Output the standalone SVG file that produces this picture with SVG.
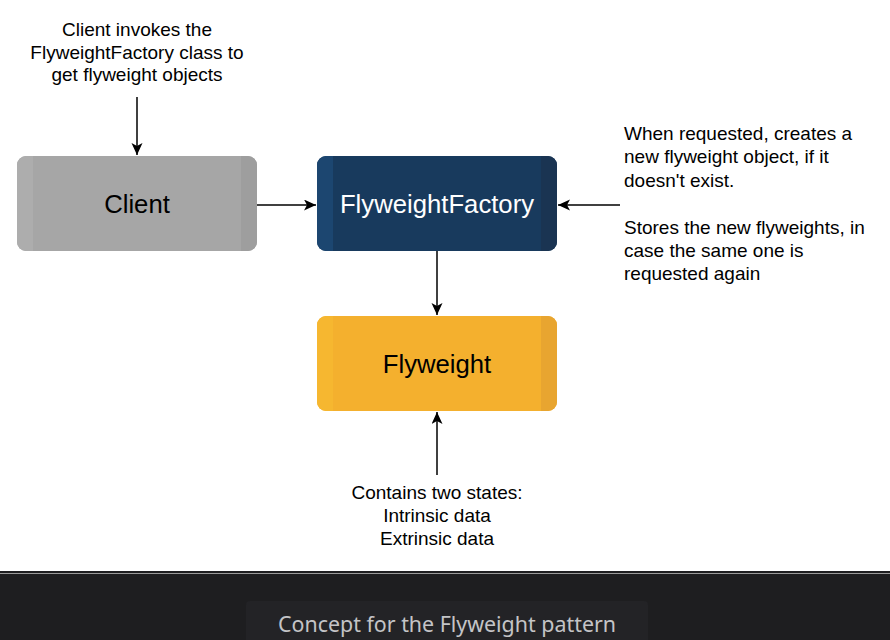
<svg xmlns="http://www.w3.org/2000/svg" width="890" height="640" viewBox="0 0 890 640">
<style>
.note{font-family:"Liberation Sans",Arial,sans-serif;font-size:19px;fill:#000}
.lbl{font-family:"Liberation Sans",Arial,sans-serif;font-size:25.7px}
.conn{stroke:#000;stroke-width:1.5;fill:none;marker-end:url(#arr)}
.cap{font-family:"Noto Sans","Open Sans",sans-serif;font-size:21.4px;fill:#c4c4c6}
</style>
<defs>
<marker id="arr" markerUnits="userSpaceOnUse" markerWidth="14" markerHeight="12" refX="12" refY="5.5" orient="auto">
<path d="M0,0 L12,5.5 L0,11 L3,5.5 Z" fill="#000"/>
</marker>
<clipPath id="c1"><rect x="17" y="156" width="240" height="95" rx="9"/></clipPath>
<clipPath id="c2"><rect x="317" y="156" width="240" height="95" rx="9"/></clipPath>
<clipPath id="c3"><rect x="317" y="316" width="240" height="95" rx="9"/></clipPath>
</defs>
<rect width="890" height="640" fill="#fff"/>

<g id="client">
<g clip-path="url(#c1)">
<rect x="17" y="156" width="240" height="95" fill="#a6a6a6"/>
<rect x="17" y="156" width="16" height="95" fill="#adadad"/>
<rect x="241" y="156" width="16" height="95" fill="#9e9e9e"/>
</g>
<text class="lbl" x="137" y="213" text-anchor="middle" fill="#000">Client</text>
</g>

<g id="factory">
<g clip-path="url(#c2)">
<rect x="317" y="156" width="240" height="95" fill="#183a5d"/>
<rect x="317" y="156" width="16" height="95" fill="#1c4670"/>
<rect x="541" y="156" width="16" height="95" fill="#1a3452"/>
</g>
<text class="lbl" x="437" y="213" text-anchor="middle" fill="#fff">FlyweightFactory</text>
</g>

<g id="flyweight">
<g clip-path="url(#c3)">
<rect x="317" y="316" width="240" height="95" fill="#f4b02e"/>
<rect x="317" y="316" width="16" height="95" fill="#f6b730"/>
<rect x="541" y="316" width="16" height="95" fill="#e8a530"/>
</g>
<text class="lbl" x="437" y="373" text-anchor="middle" fill="#000">Flyweight</text>
</g>

<g id="note-client">
<text class="note" text-anchor="middle"><tspan x="137" y="36">Client invokes the</tspan><tspan x="137" y="59">FlyweightFactory class to</tspan><tspan x="137" y="81">get flyweight objects</tspan></text>
</g>

<g id="note-factory">
<text class="note"><tspan x="624" y="140">When requested, creates a</tspan><tspan x="624" y="163">new flyweight object, if it</tspan><tspan x="624" y="187">doesn't exist.</tspan><tspan x="624" y="234">Stores the new flyweights, in</tspan><tspan x="624" y="257">case the same one is</tspan><tspan x="624" y="280">requested again</tspan></text>
</g>

<g id="note-flyweight">
<text class="note" text-anchor="middle"><tspan x="437" y="499">Contains two states:</tspan><tspan x="437" y="522">Intrinsic data</tspan><tspan x="437" y="545">Extrinsic data</tspan></text>
</g>

<g id="connectors">
<path class="conn" d="M137,97 L137,155"/>
<path class="conn" d="M257,205 L316,205"/>
<path class="conn" d="M620,205 L558,205"/>
<path class="conn" d="M437,251 L437,315"/>
<path class="conn" d="M437,475 L437,412"/>
</g>

<g id="caption-bar">
<rect x="0" y="571" width="890" height="69" fill="#1e1e20"/>
<rect x="0" y="573" width="890" height="1" fill="#9a9a9a"/>
<rect x="246" y="601" width="402" height="45" rx="4" fill="#232326"/>
<text class="cap" x="447" y="632" text-anchor="middle">Concept for the Flyweight pattern</text>
</g>
</svg>
